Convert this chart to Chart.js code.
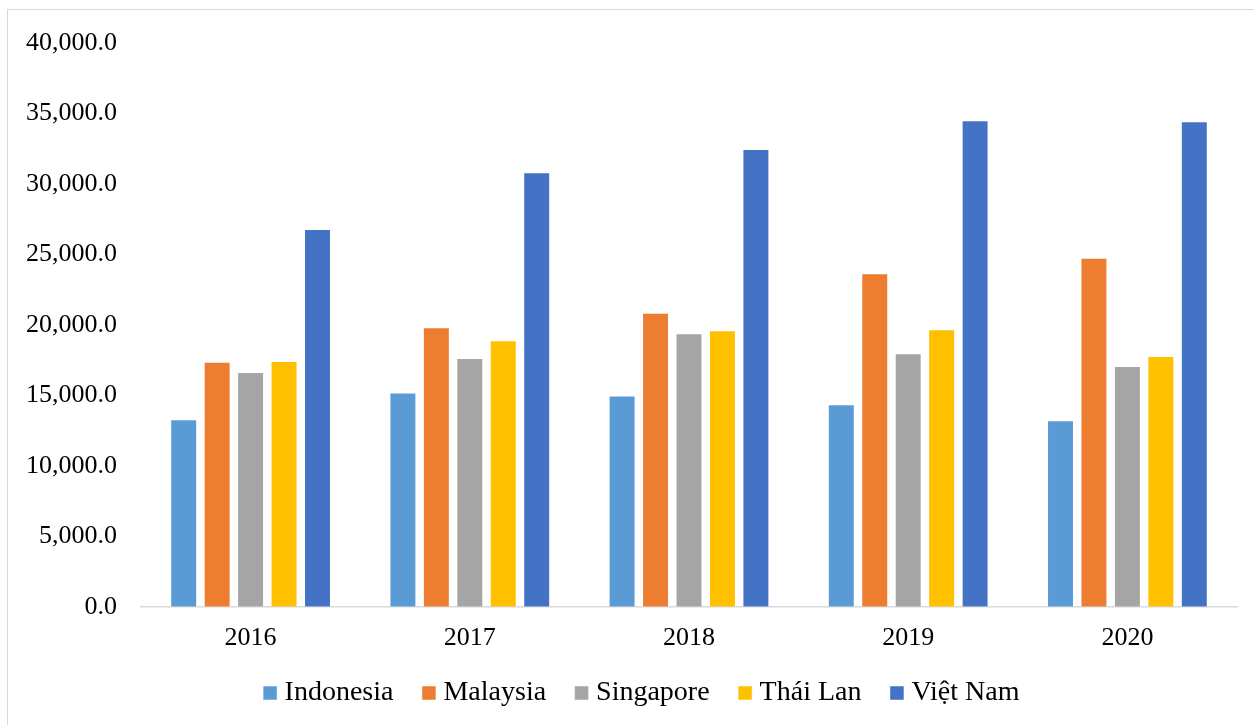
<!DOCTYPE html>
<html>
<head>
<meta charset="utf-8">
<script src="https://cdn.jsdelivr.net/npm/chart.js@4/dist/chart.umd.min.js"></script>
<style>
  html, body { margin: 0; padding: 0; background: #fff; }
  #wrap { position: relative; width: 1254px; height: 725px; }
  #frame { position: absolute; left: 7px; top: 9px; right: -2px; bottom: -2px;
           border-left: 1px solid #d9d9d9; border-top: 1px solid #d9d9d9; pointer-events: none; }
  canvas { display: block; }
</style>
</head>
<body>
<div id="wrap">
  <canvas id="c" width="1254" height="725"></canvas>
  <div id="frame"></div>
</div>
<script>
const years = ['2016', '2017', '2018', '2019', '2020'];
const indonesia = [13310, 15200, 14990, 14370, 13240];
const malaysia  = [17380, 19840, 20870, 23660, 24770];
const singapore = [16650, 17660, 19410, 17990, 17090];
const thaiLan   = [17430, 18910, 19620, 19690, 17800];
const vietNam   = [26800, 30830, 32480, 34520, 34440];
const yTicks = [0, 5000, 10000, 15000, 20000, 25000, 30000, 35000, 40000];

const FONT = "'Liberation Serif', 'Times New Roman', serif";
Chart.defaults.font.family = FONT;
Chart.defaults.font.size = 26;
Chart.defaults.color = '#000';

// Let the plot area extend closer to the legend while the legend text stays put,
// and nudge the legend row to the right like the original.
const LEGEND_LIFT = 18;
const LEGEND_SHIFT_X = 21;
const legendTighten = {
  id: 'legendTighten',
  beforeInit(chart) {
    const lg = chart.legend;
    if (!lg) return;
    const fit = lg.fit.bind(lg);
    lg.fit = function () { fit(); this.height -= LEGEND_LIFT; };
    const draw = lg.draw.bind(lg);
    lg.draw = function () {
      this.top -= LEGEND_LIFT;
      this.left += LEGEND_SHIFT_X; this.right += LEGEND_SHIFT_X;
      draw();
      this.top += LEGEND_LIFT;
      this.left -= LEGEND_SHIFT_X; this.right -= LEGEND_SHIFT_X;
    };
  }
};

const mk = (label, data, color) => ({
  label, data, backgroundColor: color, borderColor: 'rgba(255,255,255,0.5)', borderWidth: 1,
  categoryPercentage: 0.763, barPercentage: 0.806
});

new Chart(document.getElementById('c'), {
  type: 'bar',
  data: {
    labels: years,
    datasets: [
      mk('Indonesia', indonesia, '#5B9BD5'),
      mk('Malaysia', malaysia, '#ED7D31'),
      mk('Singapore', singapore, '#A5A5A5'),
      mk('Thái Lan', thaiLan, '#FFC000'),
      mk('Việt Nam', vietNam, '#4472C4')
    ]
  },
  plugins: [legendTighten],
  options: {
    responsive: false,
    animation: false,
    layout: { padding: { left: 10, right: 17, top: 43, bottom: 8 } },
    plugins: {
      tooltip: { enabled: false },
      legend: {
        position: 'bottom',
        labels: {
          font: { family: FONT, size: 28 },
          color: '#000',
          usePointStyle: true,
          pointStyle: 'rect',
          boxWidth: 1,
          boxHeight: 14,
          padding: 35
        }
      }
    },
    scales: {
      x: {
        grid: { display: false },
        border: { display: true, color: '#d9d9d9', width: 1.5 },
        ticks: { font: { family: FONT, size: 26 }, color: '#000', padding: 8 }
      },
      y: {
        min: 0, max: 40000,
        afterBuildTicks: (axis) => { axis.ticks = yTicks.map(v => ({ value: v })); },
        grid: { display: false },
        border: { display: false },
        ticks: {
          font: { family: FONT, size: 26 }, color: '#000', padding: 16,
          callback: (v) => Number(v).toLocaleString('en-US', { minimumFractionDigits: 1, maximumFractionDigits: 1 })
        }
      }
    }
  }
});
</script>
</body>
</html>
